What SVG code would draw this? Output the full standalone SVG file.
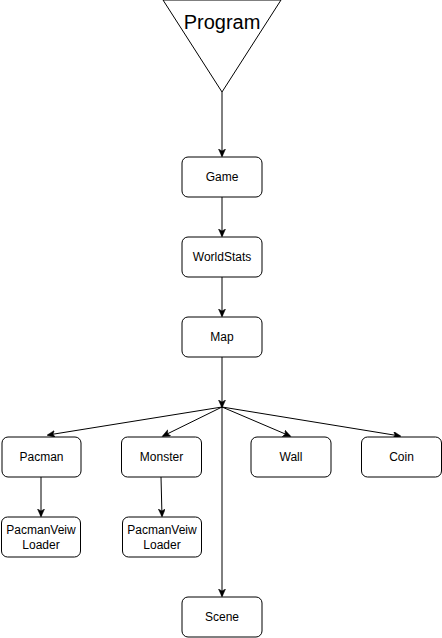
<svg xmlns="http://www.w3.org/2000/svg" width="442" height="638" viewBox="0 0 442 638">
<defs>
<marker id="arr" markerWidth="10" markerHeight="10" refX="7" refY="3.5" orient="auto" markerUnits="userSpaceOnUse">
<path d="M0,0 L8,3.5 L0,7 L2,3.5 Z" fill="#000" stroke="#000" stroke-width="0.5"/>
</marker>
</defs>
<style>
.box{fill:#fff;stroke:#000;stroke-width:1}
.t{font-family:"Liberation Sans",Arial,sans-serif;font-size:12px;fill:#000;text-anchor:middle}
.e{fill:none;stroke:#000;stroke-width:1}
</style>
<rect width="442" height="638" fill="#fff"/>
<g id="connectors">
<line class="e" x1="222" y1="92" x2="222" y2="156" marker-end="url(#arr)"/>
<line class="e" x1="222" y1="197" x2="222" y2="236" marker-end="url(#arr)"/>
<line class="e" x1="222" y1="277" x2="222" y2="316" marker-end="url(#arr)"/>
<line class="e" x1="222" y1="357" x2="222" y2="407" marker-end="url(#arr)"/>
<line class="e" x1="222" y1="407" x2="48" y2="435" marker-end="url(#arr)"/>
<line class="e" x1="222" y1="407" x2="163" y2="436" marker-end="url(#arr)"/>
<line class="e" x1="222" y1="407" x2="290" y2="436" marker-end="url(#arr)"/>
<line class="e" x1="222" y1="407" x2="400" y2="436" marker-end="url(#arr)"/>
<line class="e" x1="222" y1="407" x2="222" y2="596" marker-end="url(#arr)"/>
<line class="e" x1="41" y1="477" x2="41" y2="516" marker-end="url(#arr)"/>
<line class="e" x1="161" y1="477" x2="162" y2="516" marker-end="url(#arr)"/>
</g>
<g id="program">
<polygon points="163,0 281,0 222,92" fill="#fff" stroke="#000" stroke-width="1"/>
<text x="222" y="29" style="font-family:'Liberation Sans',Arial,sans-serif;font-size:20px;text-anchor:middle">Program</text>
</g>
<g id="game"><rect class="box" x="182" y="157" width="80" height="40" rx="6"/><text class="t" x="222" y="181">Game</text></g>
<g id="worldstats"><rect class="box" x="182" y="237" width="80" height="40" rx="6"/><text class="t" x="222" y="261">WorldStats</text></g>
<g id="map"><rect class="box" x="182" y="317" width="80" height="40" rx="6"/><text class="t" x="222" y="341">Map</text></g>
<g id="pacman"><rect class="box" x="2" y="437" width="79" height="40" rx="6"/><text class="t" x="41.5" y="461">Pacman</text></g>
<g id="monster"><rect class="box" x="121.5" y="437" width="80" height="40" rx="6"/><text class="t" x="161.5" y="461">Monster</text></g>
<g id="wall"><rect class="box" x="251" y="437" width="80" height="40" rx="6"/><text class="t" x="291" y="461">Wall</text></g>
<g id="coin"><rect class="box" x="361.5" y="437" width="80" height="40" rx="6"/><text class="t" x="401.5" y="461">Coin</text></g>
<g id="pacmanloader"><rect class="box" x="1.5" y="517" width="79" height="40" rx="6"/><text class="t" x="41" y="534">PacmanVeiw</text><text class="t" x="41" y="549">Loader</text></g>
<g id="monsterloader"><rect class="box" x="122.5" y="517" width="79" height="40" rx="6"/><text class="t" x="162" y="534">PacmanVeiw</text><text class="t" x="162" y="549">Loader</text></g>
<g id="scene"><rect class="box" x="182" y="597" width="80" height="40" rx="6"/><text class="t" x="222" y="621">Scene</text></g>
</svg>
